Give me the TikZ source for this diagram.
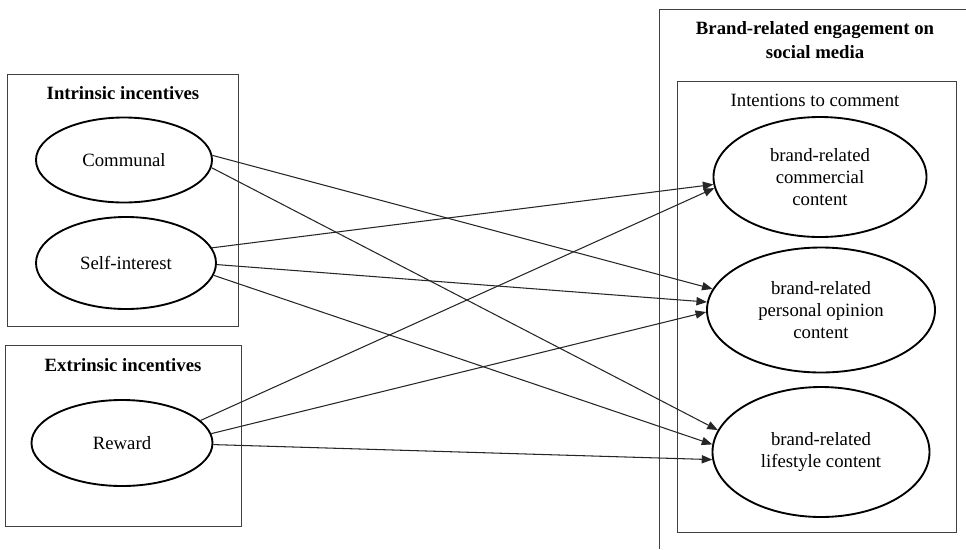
\documentclass[tikz,border=0pt]{standalone}
\usepackage{fontspec}
\setmainfont{Liberation Serif}
\usetikzlibrary{arrows.meta,shapes.geometric}
\begin{document}
\begin{tikzpicture}[x=0.03cm,y=-0.03cm,
  frame/.style={draw=black!75, line width=0.8pt, inner sep=0pt},
  construct/.style={ellipse, draw=black, line width=1.6pt, inner sep=0pt, align=center, font=\fontsize{16}{19}\selectfont},
  grouptitle/.style={font=\fontsize{16}{21}\selectfont\bfseries, align=center},
  grouplabel/.style={font=\fontsize{16}{19}\selectfont},
  link/.style={draw=black!85, line width=0.9pt, -{Triangle[length=9pt,width=7pt]}}]
\useasboundingbox (0,0) rectangle (966,549);

% left groups
\node[frame, minimum width=6.93cm, minimum height=7.56cm] (intbox) at (122.5,200) {};
\node[frame, minimum width=7.08cm, minimum height=5.43cm] (extbox) at (123,435.5) {};
\node[grouptitle] (inttitle) at (123,93) {Intrinsic incentives};
\node[grouptitle] (exttitle) at (123,365) {Extrinsic incentives};

\node[construct, minimum width=5.28cm, minimum height=2.55cm] (comm) at (124,160) {Communal};
\node[construct, minimum width=5.4cm, minimum height=2.76cm] (self) at (126,263) {Self-interest};
\node[construct, minimum width=5.43cm, minimum height=2.58cm] (rew) at (122,443) {Reward};

% right group
\draw[draw=black!75, line width=0.8pt] (659,549) -- (659,9) -- (966,9);
\node[grouptitle] (engtitle) at (815,40) {Brand-related engagement on\\social media};
\node[frame, minimum width=8.37cm, minimum height=13.53cm] (inbox) at (816.5,306.5) {};
\node[grouplabel] (inttext) at (815,100) {Intentions to comment};

\node[construct, minimum width=6.39cm, minimum height=3.6cm] (comc) at (820,177) {brand-related\\commercial\\content};
\node[construct, minimum width=6.84cm, minimum height=3.75cm] (pers) at (821,310) {brand-related\\personal opinion\\content};
\node[construct, minimum width=6.51cm, minimum height=3.9cm] (life) at (821,452) {brand-related\\lifestyle content};

% paths
\draw[link] (comm.3) -- (pers.169.5);
\draw[link] (comm.-5) -- (life.168);
\draw[link] (self.10) -- (comc.184);
\draw[link] (self.-1) -- (pers.176);
\draw[link] (self.-8) -- (life.176);
\draw[link] (rew.16) -- (comc.186);
\draw[link] (rew.6.5) -- (pers.181.5);
\draw[link] (rew.-1) -- (life.184);
\end{tikzpicture}
\end{document}
